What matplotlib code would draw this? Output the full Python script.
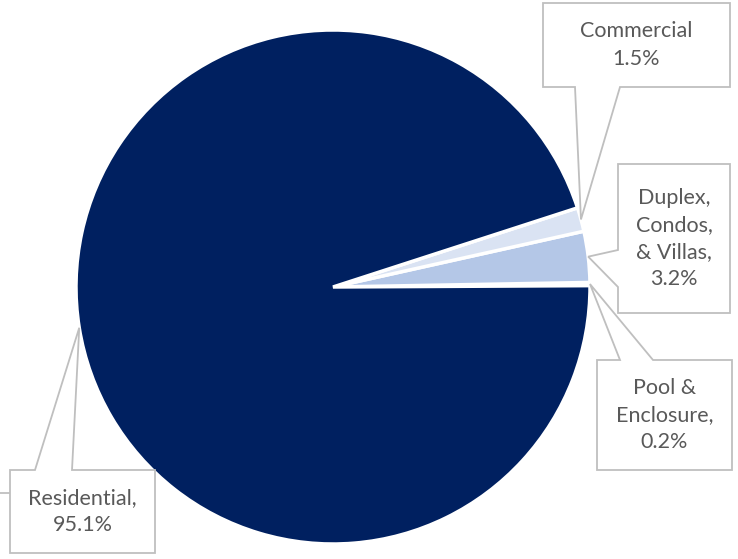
import numpy as np
import matplotlib
matplotlib.use("Agg")
import matplotlib.pyplot as plt
from matplotlib.patches import Polygon

# datos del grafico
categorias = ["Pool & Enclosure", "Duplex, Condos, & Villas", "Commercial", "Residential"]
porcentajes = [0.2, 3.2, 1.5, 95.1]
etiquetas = ["Pool &\nEnclosure,\n0.2%", "Duplex,\nCondos,\n& Villas,\n3.2%",
             "Commercial\n1.5%", "Residential,\n95.1%"]
colores = ["#8FAADC", "#B4C7E7", "#DAE3F3", "#002060"]

W, H = 738, 559

# cajas de las etiquetas (pixeles: x0, y0 arriba, x1, y1 abajo), lado del puntero y sus bases
cajas = [
    ((597, 360, 732, 470), "top", (620, 653)),
    ((618, 164, 730, 313), "left", (250, 287)),
    ((543, 3, 730, 87), "bottom", (575, 620)),
    ((10, 470, 155, 553), "top", (35, 72)),
]

def py(y):
    # pixel y (desde arriba) a coordenada de datos
    return H - y

fig = plt.figure(figsize=(W / 100, H / 100), dpi=100)
ax = fig.add_axes([0, 0, 1, 1])

cx, cy, r = 333, py(287), 257
wedges, _ = ax.pie(porcentajes, colors=colores, startangle=0.3, counterclock=True,
                   center=(cx, cy), radius=r,
                   wedgeprops=dict(edgecolor="white", linewidth=2.5))

ax.set_xlim(0, W)
ax.set_ylim(0, H)
ax.set_aspect("equal")
ax.axis("off")

gris = "#BFBFBF"
for w, texto, (caja, lado, base) in zip(wedges, etiquetas, cajas):
    ang = np.deg2rad((w.theta1 + w.theta2) / 2)
    tip = (cx + r * np.cos(ang), cy + r * np.sin(ang))
    x0, y0, x1, y1 = caja
    y0, y1 = py(y0), py(y1)
    if lado == "top":
        pts = [(x0, y0), (base[0], y0), tip, (base[1], y0), (x1, y0), (x1, y1), (x0, y1)]
    elif lado == "bottom":
        pts = [(x0, y0), (x1, y0), (x1, y1), (base[1], y1), tip, (base[0], y1), (x0, y1)]
    else:
        pts = [(x0, y0), (x1, y0), (x1, y1), (x0, y1), (x0, py(base[1])), tip, (x0, py(base[0]))]
    ax.add_patch(Polygon(pts, closed=True, facecolor="white", edgecolor=gris, lw=1.3, zorder=3))
    ax.text((x0 + x1) / 2, (y0 + y1) / 2, texto, ha="center", va="center",
            fontsize=15.5, color="#595959", family="Lato", linespacing=1.45, zorder=4)

# linea suelta a la izquierda
ax.plot([0, 10], [py(493), py(493)], color=gris, lw=1.3)

fig.savefig("out.png", dpi=100)
